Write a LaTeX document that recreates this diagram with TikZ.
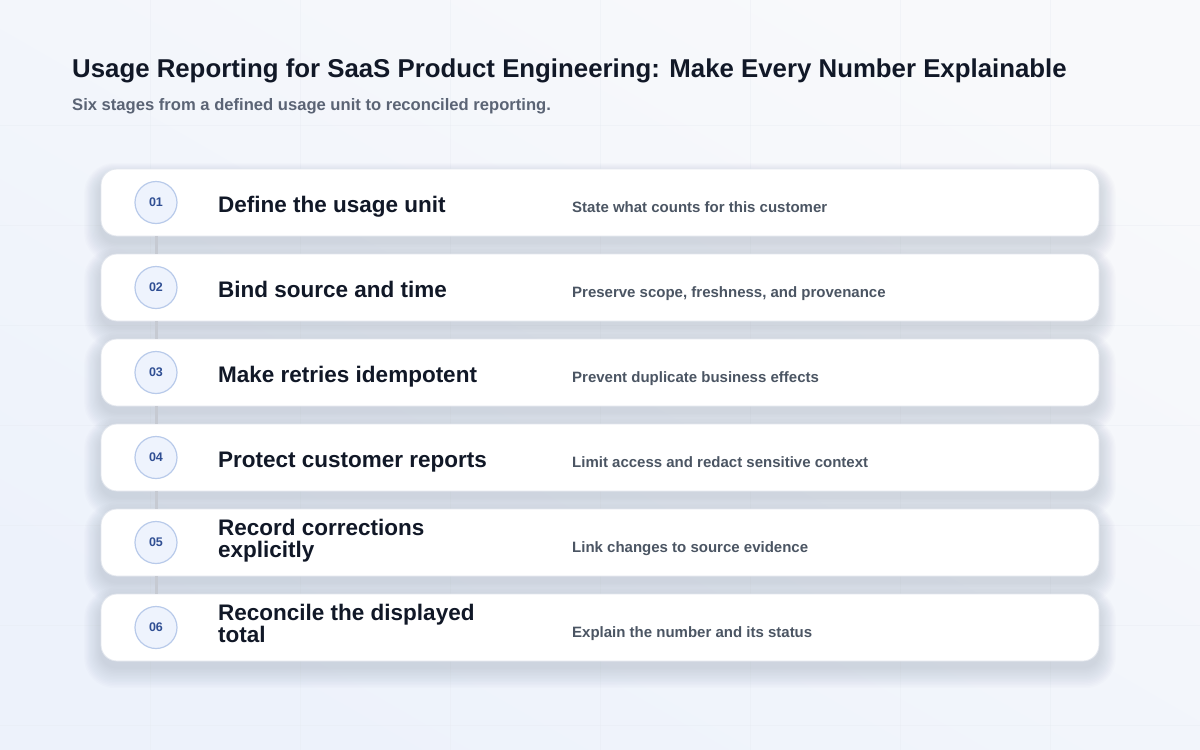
\documentclass[tikz,border=0pt]{standalone}
\usepackage{fontspec}
\setmainfont{Liberation Sans}
\usetikzlibrary{calc}
\definecolor{bgA}{HTML}{F8F9FB}
\definecolor{bgB}{HTML}{EDF2FB}
\definecolor{gridc}{HTML}{E6EAF1}
\definecolor{titlec}{HTML}{111827}
\definecolor{subc}{HTML}{5B6475}
\definecolor{descc}{HTML}{4B5563}
\definecolor{numc}{HTML}{2F4E93}
\definecolor{circf}{HTML}{EEF3FD}
\definecolor{circd}{HTML}{B8CAEA}
\definecolor{connc}{HTML}{C6CAD2}
\definecolor{shadc}{HTML}{34405E}
\definecolor{cardd}{HTML}{E3E7EE}
\tikzset{
  card/.style={draw=cardd, line width=0.8pt, fill=white, rounded corners=16pt, minimum width=998pt, minimum height=67pt, inner sep=0pt},
  numcirc/.style={circle, draw=circd, line width=1.2pt, fill=circf, minimum size=42pt, inner sep=0pt, text=numc, font=\fontsize{12.5}{14}\selectfont\bfseries},
  ttl/.style={anchor=base west, inner sep=0pt, text=titlec, font=\fontsize{22.5}{21.6}\selectfont\bfseries, align=left},
  desc/.style={anchor=base west, inner sep=0pt, text=descc, font=\fontsize{15}{18}\selectfont\bfseries},
  conn/.style={draw=connc, line width=3pt},
}
\begin{document}
\begin{tikzpicture}[x=1pt,y=-1pt]
\useasboundingbox (0,0) rectangle (1200,750);
\shade[top color=bgA, bottom color=bgB, shading angle=-30] (0,0) rectangle (1200,750);
% faint grid
\foreach \gx in {150,300,...,1050} \draw[gridc, line width=0.5pt, opacity=0.35] (\gx,0) -- (\gx,750);
\foreach \gy in {125,225,...,725} \draw[gridc, line width=0.5pt, opacity=0.35] (0,\gy) -- (1200,\gy);
% headings
\node[anchor=base west, inner sep=0pt, text=titlec, font=\fontsize{25.8}{30}\selectfont\bfseries] (title) at (72,77) {Usage Reporting for SaaS Product Engineering: Make Every Number Explainable};
\node[anchor=base west, inner sep=0pt, text=subc, font=\fontsize{16.6}{20}\selectfont\bfseries] (subtitle) at (72,110) {Six stages from a defined usage unit to reconciled reporting.};
% shadows
\foreach \i in {0,...,5} {
  \pgfmathsetmacro{\ct}{169+85*\i}
  \foreach \k in {1,...,14} {
    \fill[shadc, opacity=0.011, rounded corners={16pt+\k pt}] (101-1.2*\k, \ct+8-1.0*\k) rectangle (1099+1.2*\k, \ct+67+6+1.5*\k);
  }
}
% cards
\node[card] (c1) at (600,202.5) {};
\node[card] (c2) at (600,287.5) {};
\node[card] (c3) at (600,372.5) {};
\node[card] (c4) at (600,457.5) {};
\node[card] (c5) at (600,542.5) {};
\node[card] (c6) at (600,627.5) {};
% number circles
\node[numcirc] (n1) at (156,202.5) {01};
\node[numcirc] (n2) at (156,287.5) {02};
\node[numcirc] (n3) at (156,372.5) {03};
\node[numcirc] (n4) at (156,457.5) {04};
\node[numcirc] (n5) at (156,542.5) {05};
\node[numcirc] (n6) at (156,627.5) {06};
% connectors
\draw[conn] (c1.south -| n1) -- (c2.north -| n2);
\draw[conn] (c2.south -| n2) -- (c3.north -| n3);
\draw[conn] (c3.south -| n3) -- (c4.north -| n4);
\draw[conn] (c4.south -| n4) -- (c5.north -| n5);
\draw[conn] (c5.south -| n5) -- (c6.north -| n6);
% titles
\node[ttl] (t1) at (218,212) {Define the usage unit};
\node[ttl] (t2) at (218,297) {Bind source and time};
\node[ttl] (t3) at (218,382) {Make retries idempotent};
\node[ttl] (t4) at (218,467) {Protect customer reports};
\node[ttl] (t5) at (218,557.3) {Record corrections\\explicitly};
\node[ttl] (t6) at (218,642.3) {Reconcile the displayed\\total};
% descriptions
\node[desc] (d1) at (572,212) {State what counts for this customer};
\node[desc] (d2) at (572,297) {Preserve scope, freshness, and provenance};
\node[desc] (d3) at (572,382) {Prevent duplicate business effects};
\node[desc] (d4) at (572,467) {Limit access and redact sensitive context};
\node[desc] (d5) at (572,552) {Link changes to source evidence};
\node[desc] (d6) at (572,637) {Explain the number and its status};
\end{tikzpicture}
\end{document}
